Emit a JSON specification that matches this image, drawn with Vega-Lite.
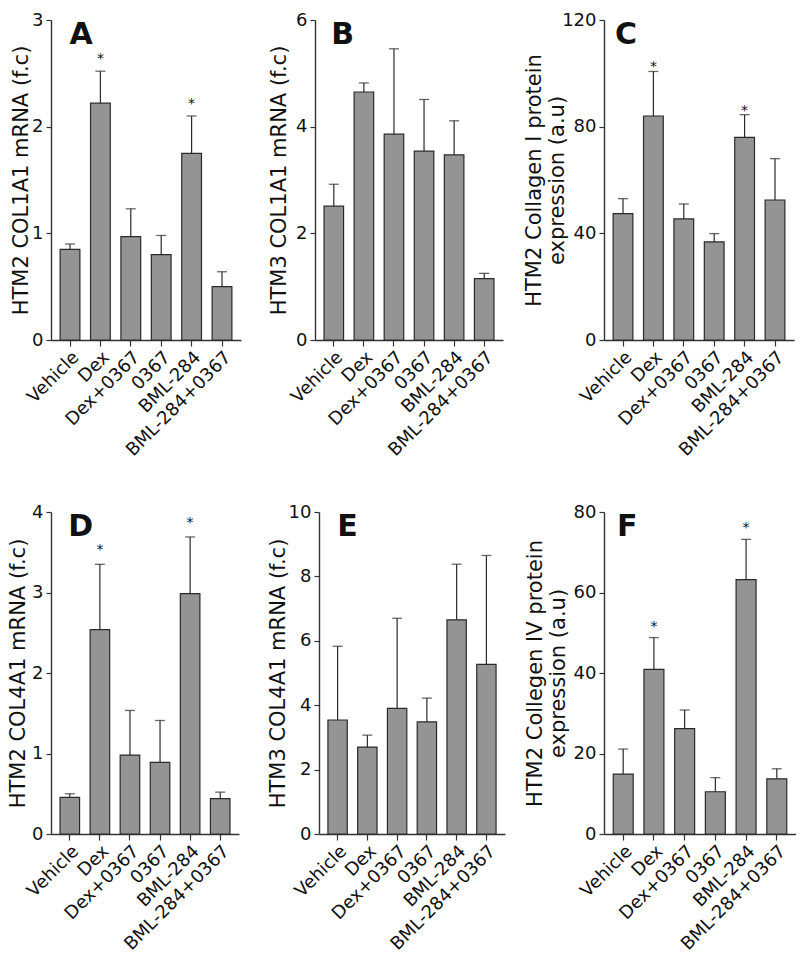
{
  "$schema": "https://vega.github.io/schema/vega-lite/v6.json",
  "padding": {"left": 7, "top": 11, "right": 0, "bottom": 0},
  "background": "white",
  "datasets": {
    "A": [
      {"group": "Vehicle", "value": 0.85, "err": 0.90, "star": false},
      {"group": "Dex", "value": 2.22, "err": 2.52, "star": true},
      {"group": "Dex+0367", "value": 0.97, "err": 1.23, "star": false},
      {"group": "0367", "value": 0.80, "err": 0.98, "star": false},
      {"group": "BML-284", "value": 1.75, "err": 2.10, "star": true},
      {"group": "BML-284+0367", "value": 0.50, "err": 0.64, "star": false}
    ],
    "B": [
      {"group": "Vehicle", "value": 2.51, "err": 2.92, "star": false},
      {"group": "Dex", "value": 4.65, "err": 4.82, "star": false},
      {"group": "Dex+0367", "value": 3.86, "err": 5.46, "star": false},
      {"group": "0367", "value": 3.54, "err": 4.51, "star": false},
      {"group": "BML-284", "value": 3.47, "err": 4.11, "star": false},
      {"group": "BML-284+0367", "value": 1.15, "err": 1.25, "star": false}
    ],
    "C": [
      {"group": "Vehicle", "value": 47.4, "err": 53.0, "star": false},
      {"group": "Dex", "value": 84.0, "err": 100.7, "star": true},
      {"group": "Dex+0367", "value": 45.4, "err": 51.0, "star": false},
      {"group": "0367", "value": 36.8, "err": 39.9, "star": false},
      {"group": "BML-284", "value": 76.0, "err": 84.5, "star": true},
      {"group": "BML-284+0367", "value": 52.5, "err": 68.0, "star": false}
    ],
    "D": [
      {"group": "Vehicle", "value": 0.456, "err": 0.50, "star": false},
      {"group": "Dex", "value": 2.54, "err": 3.35, "star": true},
      {"group": "Dex+0367", "value": 0.98, "err": 1.535, "star": false},
      {"group": "0367", "value": 0.89, "err": 1.41, "star": false},
      {"group": "BML-284", "value": 2.985, "err": 3.69, "star": true},
      {"group": "BML-284+0367", "value": 0.44, "err": 0.52, "star": false}
    ],
    "E": [
      {"group": "Vehicle", "value": 3.54, "err": 5.83, "star": false},
      {"group": "Dex", "value": 2.70, "err": 3.07, "star": false},
      {"group": "Dex+0367", "value": 3.90, "err": 6.70, "star": false},
      {"group": "0367", "value": 3.48, "err": 4.22, "star": false},
      {"group": "BML-284", "value": 6.65, "err": 8.38, "star": false},
      {"group": "BML-284+0367", "value": 5.27, "err": 8.65, "star": false}
    ],
    "F": [
      {"group": "Vehicle", "value": 14.9, "err": 21.1, "star": false},
      {"group": "Dex", "value": 40.9, "err": 48.8, "star": true},
      {"group": "Dex+0367", "value": 26.2, "err": 30.8, "star": false},
      {"group": "0367", "value": 10.5, "err": 14.0, "star": false},
      {"group": "BML-284", "value": 63.2, "err": 73.2, "star": true},
      {"group": "BML-284+0367", "value": 13.7, "err": 16.2, "star": false}
    ]
  },
  "config": {
    "view": {"stroke": null},
    "font": "DejaVu Sans",
    "text": {"color": "#111111"},
    "axis": {
      "grid": false,
      "domainColor": "#333333",
      "domainWidth": 1.4,
      "tickColor": "#333333",
      "tickWidth": 1.2,
      "tickSize": 5,
      "labelColor": "#111111",
      "titleColor": "#111111",
      "labelFont": "DejaVu Sans",
      "titleFont": "DejaVu Sans",
      "titleFontWeight": "normal"
    },
    "axisX": {"labelAngle": -45, "labelFontSize": 18, "tickSize": 6, "labelPadding": 2, "title": null},
    "axisY": {"labelFontSize": 18, "titleFontSize": 21, "labelPadding": 3, "titleLineHeight": 23, "format": "d"}
  },
  "vconcat": [
    {
      "hconcat": [
        {
          "width": 190, "height": 320,
          "data": {"name": "A"},
          "encoding": {
            "x": {"field": "group", "type": "nominal", "sort": ["Vehicle", "Dex", "Dex+0367", "0367", "BML-284", "BML-284+0367"], "scale": {"paddingInner": 0.35, "paddingOuter": 0.3}}
          },
          "layer": [
            {"mark": {"type": "bar", "color": "#949494", "stroke": "#2a2a2a", "strokeWidth": 1.2},
             "encoding": {"y": {"field": "value", "type": "quantitative", "scale": {"domain": [0, 3]}, "axis": {"values": [0, 1, 2, 3], "titlePadding": 0, "title": "HTM2 COL1A1 mRNA (f.c)"}}}},
            {"mark": {"type": "rule", "color": "#2a2a2a", "strokeWidth": 1.2},
             "encoding": {"y": {"field": "value", "type": "quantitative"}, "y2": {"field": "err"}}},
            {"mark": {"type": "tick", "color": "#2a2a2a", "thickness": 1.3, "size": 10},
             "encoding": {"y": {"field": "err", "type": "quantitative"}}},
            {"transform": [{"filter": "datum.star"}],
             "mark": {"type": "text", "text": "*", "fontSize": 14, "baseline": "alphabetic", "dy": -8},
             "encoding": {"y": {"field": "err", "type": "quantitative"}}},
            {"data": {"values": [{"label": "A"}]},
             "mark": {"type": "text", "fontSize": 30, "fontWeight": "bold", "baseline": "top", "align": "center", "dx": 11},
             "encoding": {"x": {"datum": "Vehicle"}, "y": {"datum": 3}, "text": {"field": "label"}}}
          ]
        },
        {
          "hconcat": [
            {
              "width": 188, "height": 320,
              "data": {"name": "B"},
              "encoding": {
                "x": {"field": "group", "type": "nominal", "sort": ["Vehicle", "Dex", "Dex+0367", "0367", "BML-284", "BML-284+0367"], "scale": {"paddingInner": 0.35, "paddingOuter": 0.3}}
              },
              "layer": [
                {"mark": {"type": "bar", "color": "#949494", "stroke": "#2a2a2a", "strokeWidth": 1.2},
                 "encoding": {"y": {"field": "value", "type": "quantitative", "scale": {"domain": [0, 6]}, "axis": {"values": [0, 2, 4, 6], "titlePadding": 6, "title": "HTM3 COL1A1 mRNA (f.c)"}}}},
                {"mark": {"type": "rule", "color": "#2a2a2a", "strokeWidth": 1.2},
                 "encoding": {"y": {"field": "value", "type": "quantitative"}, "y2": {"field": "err"}}},
                {"mark": {"type": "tick", "color": "#2a2a2a", "thickness": 1.3, "size": 10},
                 "encoding": {"y": {"field": "err", "type": "quantitative"}}},
                {"data": {"values": [{"label": "B"}]},
                 "mark": {"type": "text", "fontSize": 30, "fontWeight": "bold", "baseline": "top", "align": "center", "dx": 9},
                 "encoding": {"x": {"datum": "Vehicle"}, "y": {"datum": 6}, "text": {"field": "label"}}}
              ]
            },
            {
              "width": 190, "height": 320,
              "data": {"name": "C"},
              "encoding": {
                "x": {"field": "group", "type": "nominal", "sort": ["Vehicle", "Dex", "Dex+0367", "0367", "BML-284", "BML-284+0367"], "scale": {"paddingInner": 0.35, "paddingOuter": 0.3}}
              },
              "layer": [
                {"mark": {"type": "bar", "color": "#949494", "stroke": "#2a2a2a", "strokeWidth": 1.2},
                 "encoding": {"y": {"field": "value", "type": "quantitative", "scale": {"domain": [0, 120]}, "axis": {"values": [0, 40, 80, 120], "titlePadding": -6, "title": ["HTM2 Collagen I protein", "expression (a.u)"]}}}},
                {"mark": {"type": "rule", "color": "#2a2a2a", "strokeWidth": 1.2},
                 "encoding": {"y": {"field": "value", "type": "quantitative"}, "y2": {"field": "err"}}},
                {"mark": {"type": "tick", "color": "#2a2a2a", "thickness": 1.3, "size": 10},
                 "encoding": {"y": {"field": "err", "type": "quantitative"}}},
                {"transform": [{"filter": "datum.star"}],
                 "mark": {"type": "text", "text": "*", "fontSize": 14, "baseline": "alphabetic", "dy": 0},
                 "encoding": {"y": {"field": "err", "type": "quantitative"}}},
                {"data": {"values": [{"label": "C"}]},
                 "mark": {"type": "text", "fontSize": 30, "fontWeight": "bold", "baseline": "top", "align": "center", "dx": 3},
                 "encoding": {"x": {"datum": "Vehicle"}, "y": {"datum": 120}, "text": {"field": "label"}}}
              ]
            }
          ],
          "spacing": 20
        }
      ],
      "spacing": 27
    },
    {
      "hconcat": [
        {
          "width": 188, "height": 322,
          "data": {"name": "D"},
          "encoding": {
            "x": {"field": "group", "type": "nominal", "sort": ["Vehicle", "Dex", "Dex+0367", "0367", "BML-284", "BML-284+0367"], "scale": {"paddingInner": 0.35, "paddingOuter": 0.3}}
          },
          "layer": [
            {"mark": {"type": "bar", "color": "#949494", "stroke": "#2a2a2a", "strokeWidth": 1.2},
             "encoding": {"y": {"field": "value", "type": "quantitative", "scale": {"domain": [0, 4]}, "axis": {"values": [0, 1, 2, 3, 4], "titlePadding": 3, "title": "HTM2 COL4A1 mRNA (f.c)"}}}},
            {"mark": {"type": "rule", "color": "#2a2a2a", "strokeWidth": 1.2},
             "encoding": {"y": {"field": "value", "type": "quantitative"}, "y2": {"field": "err"}}},
            {"mark": {"type": "tick", "color": "#2a2a2a", "thickness": 1.3, "size": 10},
             "encoding": {"y": {"field": "err", "type": "quantitative"}}},
            {"transform": [{"filter": "datum.star"}],
             "mark": {"type": "text", "text": "*", "fontSize": 14, "baseline": "alphabetic", "dy": -10},
             "encoding": {"y": {"field": "err", "type": "quantitative"}}},
            {"data": {"values": [{"label": "D"}]},
             "mark": {"type": "text", "fontSize": 30, "fontWeight": "bold", "baseline": "top", "align": "center", "dx": 11},
             "encoding": {"x": {"datum": "Vehicle"}, "y": {"datum": 4}, "text": {"field": "label"}}}
          ]
        },
        {
          "hconcat": [
            {
              "width": 186, "height": 322,
              "data": {"name": "E"},
              "encoding": {
                "x": {"field": "group", "type": "nominal", "sort": ["Vehicle", "Dex", "Dex+0367", "0367", "BML-284", "BML-284+0367"], "scale": {"paddingInner": 0.35, "paddingOuter": 0.3}}
              },
              "layer": [
                {"mark": {"type": "bar", "color": "#949494", "stroke": "#2a2a2a", "strokeWidth": 1.2},
                 "encoding": {"y": {"field": "value", "type": "quantitative", "scale": {"domain": [0, 10]}, "axis": {"values": [0, 2, 4, 6, 8, 10], "titlePadding": 0, "title": "HTM3 COL4A1 mRNA (f.c)"}}}},
                {"mark": {"type": "rule", "color": "#2a2a2a", "strokeWidth": 1.2},
                 "encoding": {"y": {"field": "value", "type": "quantitative"}, "y2": {"field": "err"}}},
                {"mark": {"type": "tick", "color": "#2a2a2a", "thickness": 1.3, "size": 10},
                 "encoding": {"y": {"field": "err", "type": "quantitative"}}},
                {"data": {"values": [{"label": "E"}]},
                 "mark": {"type": "text", "fontSize": 30, "fontWeight": "bold", "baseline": "top", "align": "center", "dx": 10},
                 "encoding": {"x": {"datum": "Vehicle"}, "y": {"datum": 10}, "text": {"field": "label"}}}
              ]
            },
            {
              "width": 192, "height": 322,
              "data": {"name": "F"},
              "encoding": {
                "x": {"field": "group", "type": "nominal", "sort": ["Vehicle", "Dex", "Dex+0367", "0367", "BML-284", "BML-284+0367"], "scale": {"paddingInner": 0.35, "paddingOuter": 0.3}}
              },
              "layer": [
                {"mark": {"type": "bar", "color": "#949494", "stroke": "#2a2a2a", "strokeWidth": 1.2},
                 "encoding": {"y": {"field": "value", "type": "quantitative", "scale": {"domain": [0, 80]}, "axis": {"values": [0, 20, 40, 60, 80], "titlePadding": 5, "title": ["HTM2 Collegen IV protein", "expression (a.u)"]}}}},
                {"mark": {"type": "rule", "color": "#2a2a2a", "strokeWidth": 1.2},
                 "encoding": {"y": {"field": "value", "type": "quantitative"}, "y2": {"field": "err"}}},
                {"mark": {"type": "tick", "color": "#2a2a2a", "thickness": 1.3, "size": 10},
                 "encoding": {"y": {"field": "err", "type": "quantitative"}}},
                {"transform": [{"filter": "datum.star"}],
                 "mark": {"type": "text", "text": "*", "fontSize": 14, "baseline": "alphabetic", "dy": -7},
                 "encoding": {"y": {"field": "err", "type": "quantitative"}}},
                {"data": {"values": [{"label": "F"}]},
                 "mark": {"type": "text", "fontSize": 30, "fontWeight": "bold", "baseline": "top", "align": "center", "dx": 4},
                 "encoding": {"x": {"datum": "Vehicle"}, "y": {"datum": 80}, "text": {"field": "label"}}}
              ]
            }
          ],
          "spacing": 19
        }
      ],
      "spacing": 28
    }
  ],
  "spacing": 43
}
